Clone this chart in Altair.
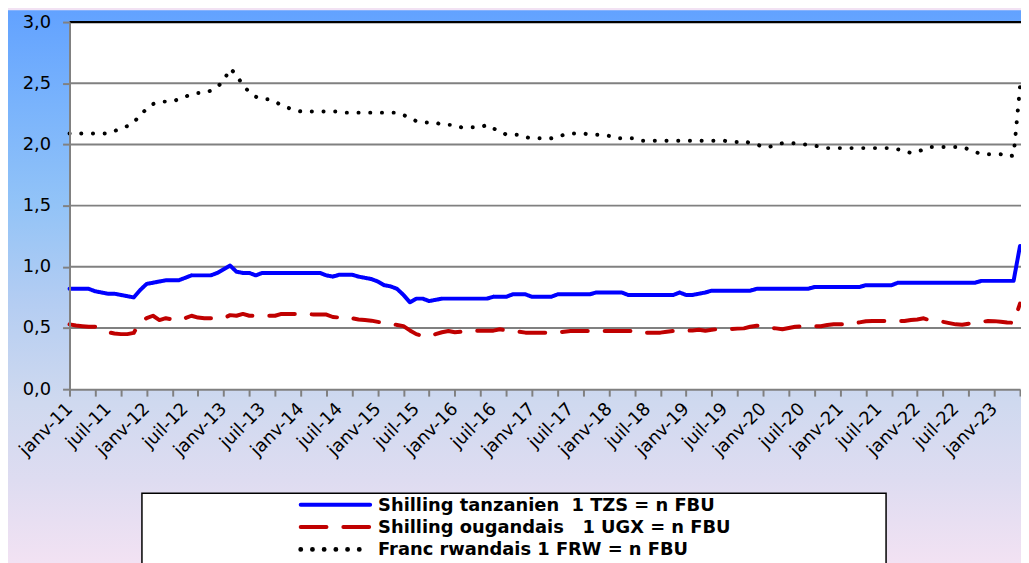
import altair as alt
import pandas as pd

# ---------------- data (monthly, janv-2011 .. mai-2023) ----------------
tzs = [
    0.82, 0.82, 0.82, 0.82, 0.80, 0.79, 0.78, 0.78, 0.77, 0.76, 0.75, 0.81,
    0.86, 0.87, 0.88, 0.89, 0.89, 0.89, 0.91, 0.93, 0.93, 0.93, 0.93, 0.95,
    0.98, 1.01, 0.96, 0.95, 0.95, 0.93, 0.95, 0.95, 0.95, 0.95, 0.95, 0.95,
    0.95, 0.95, 0.95, 0.95, 0.93, 0.92, 0.935, 0.935, 0.935, 0.92, 0.91, 0.90,
    0.88, 0.85, 0.84, 0.82, 0.77, 0.71, 0.74, 0.74, 0.72, 0.73, 0.74, 0.74,
    0.74, 0.74, 0.74, 0.74, 0.74, 0.74, 0.755, 0.755, 0.755, 0.775, 0.775, 0.775,
    0.755, 0.755, 0.755, 0.755, 0.775, 0.775, 0.775, 0.775, 0.775, 0.775, 0.79, 0.79,
    0.79, 0.79, 0.79, 0.77, 0.77, 0.77, 0.77, 0.77, 0.77, 0.77, 0.77, 0.79,
    0.77, 0.77, 0.78, 0.79, 0.805, 0.805, 0.805, 0.805, 0.805, 0.805, 0.805, 0.82,
    0.82, 0.82, 0.82, 0.82, 0.82, 0.82, 0.82, 0.82, 0.835, 0.835, 0.835, 0.835,
    0.835, 0.835, 0.835, 0.835, 0.85, 0.85, 0.85, 0.85, 0.85, 0.87, 0.87, 0.87,
    0.87, 0.87, 0.87, 0.87, 0.87, 0.87, 0.87, 0.87, 0.87, 0.87, 0.885, 0.885,
    0.885, 0.885, 0.885, 0.885, 1.17,
]
ugx = [
    0.53, 0.52, 0.515, 0.51, 0.51, 0.49, 0.465, 0.455, 0.45, 0.45, 0.46, 0.55,
    0.58, 0.60, 0.565, 0.58, 0.57, 0.56, 0.58, 0.60, 0.585, 0.58, 0.58, 0.58,
    0.58, 0.605, 0.60, 0.615, 0.60, 0.60, 0.60, 0.60, 0.60, 0.615, 0.615, 0.615,
    0.615, 0.615, 0.61, 0.61, 0.61, 0.59, 0.585, 0.595, 0.58, 0.57, 0.565, 0.56,
    0.55, 0.54, 0.535, 0.525, 0.515, 0.48, 0.45, 0.435, 0.43, 0.45, 0.465, 0.475,
    0.465, 0.47, 0.478, 0.478, 0.478, 0.478, 0.478, 0.49, 0.48, 0.476, 0.47, 0.462,
    0.462, 0.462, 0.462, 0.462, 0.462, 0.47, 0.476, 0.476, 0.476, 0.476, 0.476, 0.476,
    0.476, 0.476, 0.476, 0.476, 0.476, 0.46, 0.462, 0.462, 0.462, 0.47, 0.476, 0.478,
    0.478, 0.48, 0.486, 0.478, 0.485, 0.492, 0.492, 0.492, 0.495, 0.497, 0.51, 0.519,
    0.519, 0.50, 0.497, 0.49, 0.50, 0.51, 0.514, 0.514, 0.514, 0.514, 0.524, 0.53,
    0.53, 0.53, 0.535, 0.546, 0.555, 0.557, 0.557, 0.557, 0.557, 0.557, 0.557, 0.565,
    0.57, 0.579, 0.562, 0.556, 0.551, 0.54, 0.53, 0.526, 0.535, 0.54, 0.55, 0.557,
    0.556, 0.551, 0.545, 0.543, 0.70,
]
frw = [
    2.09, 2.09, 2.09, 2.09, 2.09, 2.09, 2.09, 2.11, 2.13, 2.15, 2.18, 2.24,
    2.29, 2.33, 2.35, 2.35, 2.35, 2.37, 2.39, 2.41, 2.42, 2.42, 2.44, 2.47,
    2.52, 2.62, 2.57, 2.48, 2.43, 2.39, 2.37, 2.37, 2.35, 2.32, 2.30, 2.28,
    2.27, 2.27, 2.27, 2.27, 2.27, 2.27, 2.27, 2.26, 2.26, 2.26, 2.26, 2.26,
    2.26, 2.26, 2.26, 2.26, 2.24, 2.22, 2.19, 2.18, 2.18, 2.18, 2.16, 2.16,
    2.16, 2.14, 2.14, 2.14, 2.14, 2.16, 2.13, 2.11, 2.08, 2.08, 2.08, 2.06,
    2.05, 2.05, 2.05, 2.05, 2.06, 2.08, 2.09, 2.09, 2.09, 2.08, 2.08, 2.08,
    2.07, 2.05, 2.05, 2.05, 2.05, 2.03, 2.03, 2.03, 2.03, 2.03, 2.03, 2.03,
    2.03, 2.03, 2.03, 2.03, 2.03, 2.03, 2.03, 2.02, 2.02, 2.03, 2.01, 2.00,
    1.98, 1.98, 2.00, 2.01, 2.01, 2.01, 2.00, 2.00, 1.99, 1.98, 1.97, 1.97,
    1.97, 1.97, 1.97, 1.97, 1.97, 1.97, 1.97, 1.97, 1.97, 1.96, 1.95, 1.93,
    1.94, 1.96, 1.98, 1.98, 1.98, 1.98, 1.98, 1.98, 1.96, 1.94, 1.92, 1.92,
    1.92, 1.92, 1.90, 1.91, 2.47,
]

series_names = [
    "Shilling tanzanien\u00a0 1 TZS = n FBU",
    "Shilling ougandais\u00a0\u00a0 1 UGX = n FBU",
    "Franc rwandais 1 FRW = n FBU",
]
series_colors = ["#0000FF", "#C00000", "#000000"]
series_dashes = [[1, 0], [26, 17], [0.1, 11.7]]
series_widths = [4.0, 4.0, 4.8]

x_tick_labels = [
    "janv-11", "juil-11", "janv-12", "juil-12", "janv-13", "juil-13",
    "janv-14", "juil-14", "janv-15", "juil-15", "janv-16", "juil-16",
    "janv-17", "juil-17", "janv-18", "juil-18", "janv-19", "juil-19",
    "janv-20", "juil-20", "janv-21", "juil-21", "janv-22", "juil-22",
    "janv-23",
]
y_ticks = [0.0, 0.5, 1.0, 1.5, 2.0, 2.5, 3.0]
y_tick_labels = ["0,0", "0,5", "1,0", "1,5", "2,0", "2,5", "3,0"]

# ---------------- tables ----------------
rows = []
for name, vals in zip(series_names, [tzs, ugx, frw]):
    for i, v in enumerate(vals):
        rows.append({"m": i, "v": v, "s": name})
df = pd.DataFrame(rows)
n_last = len(tzs) - 1

grid_df = pd.DataFrame({"g": y_ticks[1:-1]})
one = pd.DataFrame({"k": [0]})

W, H = 958, 370
FONT = "DejaVu Sans"
GRAY = "#808080"

x_scale = alt.Scale(domain=[0, n_last], nice=False, zero=False)
y_scale = alt.Scale(domain=[0, 3], nice=False)

x_lab_arr = "[" + ",".join("'" + t + "'" for t in x_tick_labels) + "]"
y_lab_arr = "[" + ",".join("'" + t + "'" for t in y_tick_labels) + "]"

x_axis = alt.Axis(
    values=list(range(0, n_last + 1, 2)),
    labelExpr="datum.value % 6 === 0 ? " + x_lab_arr + "[datum.value / 6] : ''",
    labelAngle=-45, labelAlign="right", labelBaseline="middle",
    labelPadding=10, labelFont=FONT, labelFontSize=18, labelColor="#000000",
    labelFlush=False, labelOverlap=False, labelBound=False,
    tickSize=7, tickWidth=2, tickColor=GRAY,
    tickOpacity={"condition": {"test": "datum.value % 4 === 0", "value": 1}, "value": 0},
    domainColor=GRAY, domainWidth=2, grid=False, title=None, zindex=1,
)
y_axis = alt.Axis(
    values=y_ticks,
    labelExpr=y_lab_arr + "[round(datum.value * 2)]",
    labelFont=FONT, labelFontSize=18, labelColor="#000000", labelPadding=12,
    tickSize=7, tickWidth=2, tickColor=GRAY,
    domainColor=GRAY, domainWidth=2, grid=False, title=None, zindex=1,
    labelFlush=False, labelOverlap=False,
)

# background gradient over the whole figure
bg = alt.Chart(one).mark_rect(
    fill=alt.Gradient(
        gradient="linear", x1=0, x2=0, y1=0, y2=1,
        stops=[
            alt.GradientStop(color="#62A2FF", offset=0.0),
            alt.GradientStop(color="#79B3FC", offset=0.17),
            alt.GradientStop(color="#92C3F7", offset=0.35),
            alt.GradientStop(color="#B4CDF2", offset=0.53),
            alt.GradientStop(color="#CFD9EF", offset=0.71),
            alt.GradientStop(color="#DEDCF1", offset=0.85),
            alt.GradientStop(color="#F2E2F3", offset=1.0),
        ],
    ),
    strokeWidth=0,
).encode(x=alt.value(-62), x2=alt.value(W + 10), y=alt.value(-12), y2=alt.value(H + 175))

plot_bg = alt.Chart(one).mark_rect(fill="white", strokeWidth=0).encode(
    x=alt.value(0), x2=alt.value(W + 4), y=alt.value(0), y2=alt.value(H)
)
top_border = alt.Chart(one).mark_rule(color="black", strokeWidth=2.2).encode(
    x=alt.value(0), x2=alt.value(W + 4), y=alt.value(0)
)

grid = alt.Chart(grid_df).mark_rule(color=GRAY, strokeWidth=2).encode(
    y=alt.Y("g:Q", scale=y_scale, axis=y_axis),
    x=alt.value(0), x2=alt.value(W + 4),
)

lines = alt.Chart(df).mark_line(strokeCap="round", strokeJoin="round").encode(
    x=alt.X("m:Q", scale=x_scale, axis=x_axis),
    y=alt.Y("v:Q", scale=y_scale, axis=y_axis),
    color=alt.Color("s:N", scale=alt.Scale(domain=series_names, range=series_colors), legend=None),
    strokeDash=alt.StrokeDash("s:N", scale=alt.Scale(domain=series_names, range=series_dashes), legend=None),
    strokeWidth=alt.StrokeWidth("s:N", scale=alt.Scale(domain=series_names, range=series_widths), legend=None),
    detail="s:N",
)

# legend (drawn by hand, Excel style)
LX0, LX1 = 73, 823
LY0 = 475
row_y = [486.5, 509.0, 531.5]
sym_x0, sym_x1, txt_x = 233, 303, 311

legend_layers = [
    alt.Chart(one).mark_rect(fill="white", stroke="black", strokeWidth=1.5).encode(
        x=alt.value(LX0), x2=alt.value(LX1), y=alt.value(LY0), y2=alt.value(H + 190)
    )
]
for name, col, dash, sw, ry in zip(series_names, series_colors, series_dashes, series_widths, row_y):
    legend_layers.append(
        alt.Chart(one).mark_rule(color=col, strokeWidth=sw, strokeDash=dash, strokeCap="round").encode(
            x=alt.value(sym_x0), x2=alt.value(sym_x1), y=alt.value(ry)
        )
    )
    legend_layers.append(
        alt.Chart(pd.DataFrame({"label": [name]})).mark_text(
            align="left", baseline="middle", font=FONT, fontWeight="bold",
            fontSize=18, color="#000000",
        ).encode(x=alt.value(txt_x), y=alt.value(ry + 1), text="label:N")
    )

chart = alt.layer(bg, plot_bg, top_border, grid, lines, *legend_layers).properties(
    width=W, height=H,
    autosize=alt.AutoSizeParams(type="none"),
    padding={"left": 62, "top": 12, "right": 1, "bottom": 173},
    background="#F2E2F3",
).configure_view(stroke=None)

chart.save("out.html", embed_options={"renderer": "svg", "actions": False})
